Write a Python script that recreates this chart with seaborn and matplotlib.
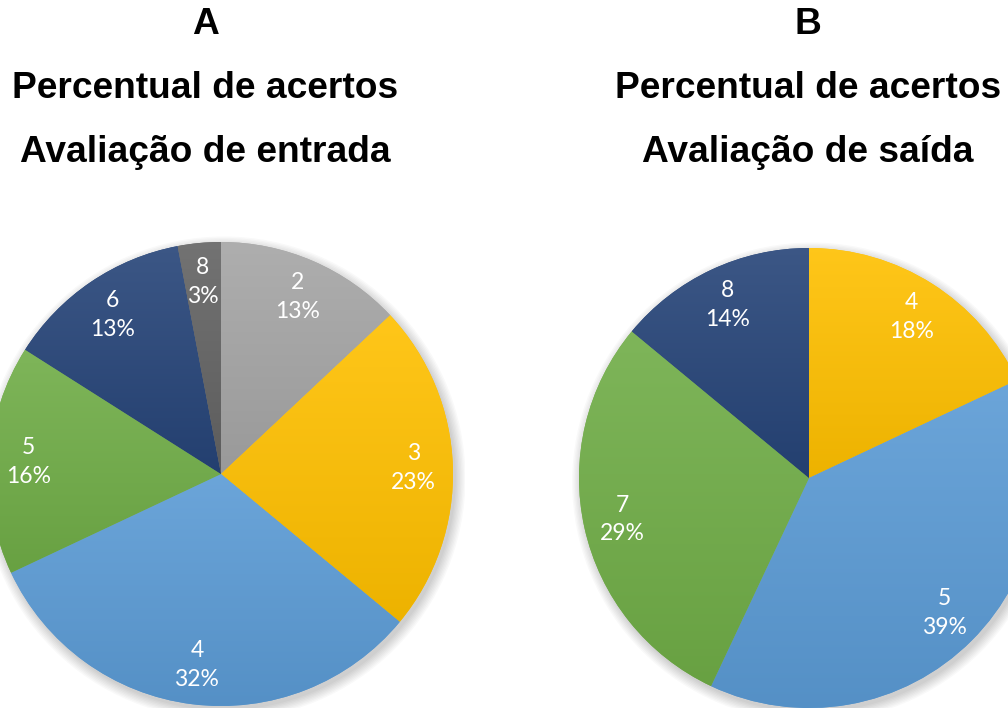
"""
Two pie charts: percentual de acertos, avaliação de entrada (A) e de saída (B)
"""

import numpy as np
import matplotlib
matplotlib.use('Agg')
import matplotlib.pyplot as plt
from matplotlib.colors import LinearSegmentedColormap, to_rgb
from matplotlib.patches import Circle
import seaborn as sns

# ---- data ----
entrada_notas = ["2", "3", "4", "5", "6", "8"]
entrada_pct = [13, 23, 32, 16, 13, 3]
entrada_cores = ["#A5A5A5", "#FFC000", "#5B9BD5", "#70AD47", "#264478", "#636363"]

saida_notas = ["4", "5", "7", "8"]
saida_pct = [18, 39, 29, 14]
saida_cores = ["#FFC000", "#5B9BD5", "#70AD47", "#264478"]

panel_letters = ["A", "B"]
title_line1 = "Percentual de acertos"
title_line2 = ["Avaliação de entrada", "Avaliação de saída"]

sns.set_theme(style="white")
plt.rcParams['font.family'] = ['Liberation Sans', 'DejaVu Sans']

W, H = 1008, 708
fig = plt.figure(figsize=(W / 100, H / 100), dpi=100)
fig.patch.set_facecolor("white")


def shade(color, f):
    r, g, b = to_rgb(color)
    if f >= 0:
        return (r + (1 - r) * f, g + (1 - g) * f, b + (1 - b) * f)
    return (r * (1 + f), g * (1 + f), b * (1 + f))


def draw_pie(cx, cy, rad, notas, pct, cores):
    # axes placed in pixels so the pie can run off the figure edge
    ax = fig.add_axes([(cx - rad * 1.05) / W, (H - cy - rad * 1.05) / H,
                       2.1 * rad / W, 2.1 * rad / H])
    ax.set_facecolor("none")
    # soft shadow
    for k in range(8):
        ax.add_patch(Circle((0.012, -0.018), 1.0 + k * 0.006, color="black",
                            alpha=0.025, lw=0, zorder=0))
    labels = [f"{n}\n{p}%" for n, p in zip(notas, pct)]
    wedges, texts = ax.pie(pct, labels=labels, colors=sns.color_palette(cores),
                           startangle=90, counterclock=False, radius=1,
                           labeldistance=0.83,
                           wedgeprops=dict(linewidth=0, zorder=1),
                           textprops=dict(color="white", fontsize=16.5,
                                          family=['Lato', 'DejaVu Sans'],
                                          linespacing=1.45))
    for t in texts:
        t.set_ha("center")
        t.set_va("center")
        t.set_zorder(5)
    # vertical gradient inside each wedge (lighter at top)
    for w, c in zip(wedges, cores):
        ext = w.get_path().get_extents()
        cmap = LinearSegmentedColormap.from_list("g", [shade(c, -0.07), shade(c, 0.10)])
        grad = np.linspace(0, 1, 256).reshape(-1, 1)
        im = ax.imshow(grad, cmap=cmap, origin="lower", aspect="auto",
                       extent=[ext.x0, ext.x1, ext.y0, ext.y1], zorder=2,
                       interpolation="bilinear")
        im.set_clip_path(w)
    ax.set_xlim(-1.05, 1.05)
    ax.set_ylim(-1.05, 1.05)
    ax.set_aspect("equal")
    ax.axis("off")
    return ax


draw_pie(221, 474, 232, entrada_notas, entrada_pct, entrada_cores)
draw_pie(809, 478, 230, saida_notas, saida_pct, saida_cores)

# titles
for xc, letter, line2 in zip([205, 808], panel_letters, title_line2):
    fig.text(xc / W, 1 - 25 / H, letter, ha="center", va="center",
             fontsize=26.7, fontweight="bold", color="black")
    fig.text(xc / W, 1 - 88 / H, title_line1, ha="center", va="center",
             fontsize=26.7, fontweight="bold", color="black")
    fig.text(xc / W, 1 - 153 / H, line2, ha="center", va="center",
             fontsize=26.7, fontweight="bold", color="black")

fig.savefig("out.png", dpi=100, facecolor="white")
print("saved out.png")
